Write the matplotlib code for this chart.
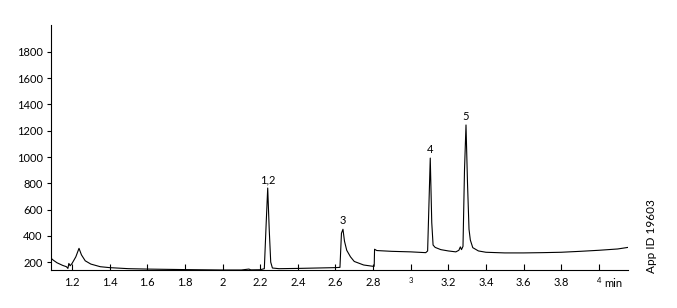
import matplotlib
matplotlib.use('Agg')
import matplotlib.pyplot as plt

plt.rcParams['font.family'] = ['Lato', 'DejaVu Sans']

# chromatogram trace (time in min, signal)
time_min = [1.088, 1.10, 1.12, 1.15, 1.17, 1.178, 1.183, 1.19, 1.20, 1.22, 1.237,
            1.25, 1.27, 1.30, 1.35, 1.40, 1.50, 1.60, 1.80, 2.00, 2.10, 2.14,
            2.15, 2.20, 2.222, 2.232, 2.240, 2.248, 2.256, 2.265, 2.30, 2.40,
            2.50, 2.60, 2.624, 2.632, 2.640, 2.648, 2.66, 2.68, 2.70, 2.75,
            2.80, 2.806, 2.808, 2.82, 2.90, 3.00, 3.08, 3.090, 3.104, 3.112,
            3.119, 3.13, 3.16, 3.20, 3.24, 3.256, 3.264, 3.270, 3.278, 3.286,
            3.294, 3.302, 3.310, 3.317, 3.33, 3.36, 3.40, 3.50, 3.60, 3.70,
            3.80, 3.90, 4.00, 4.10, 4.155]
signal = [230, 215, 195, 175, 165, 152, 190, 172, 190, 240, 305,
          255, 210, 185, 165, 158, 150, 147, 143, 140, 140, 147,
          141, 142, 150, 500, 764, 450, 200, 155, 150, 152,
          155, 158, 160, 420, 450, 360, 290, 240, 205, 178,
          168, 168, 298, 288, 282, 278, 272, 285, 992, 500,
          330, 312, 295, 285, 278, 290, 316, 295, 320, 900,
          1244, 800, 450, 368, 310, 285, 275, 270, 270, 272,
          275, 282, 290, 300, 312]

peak_labels = ['1,2', '3', '4', '5']
peak_times = [2.240, 2.640, 3.104, 3.294]
peak_heights = [764, 450, 992, 1244]

y_ticks = [200, 400, 600, 800, 1000, 1200, 1400, 1600, 1800]
x_ticks = [1.2, 1.4, 1.6, 1.8, 2.0, 2.2, 2.4, 2.6, 2.8, 3.0, 3.2, 3.4, 3.6, 3.8, 4.0]
x_tick_labels = ['1.2', '1.4', '1.6', '1.8', '2', '2.2', '2.4', '2.6', '2.8',
                 '3', '3.2', '3.4', '3.6', '3.8', '4']

fig = plt.figure(figsize=(6.77, 3.08), dpi=100)
ax = fig.add_axes([0.0753, 0.1234, 0.8523, 0.7954])

ax.plot(time_min, signal, color='black', lw=0.8)

for lab, t, h in zip(peak_labels, peak_times, peak_heights):
    ax.annotate(lab, (t, h), xytext=(0, 2), textcoords='offset points',
                ha='center', va='bottom', fontsize=8)

ax.set_xlim(1.088, 4.155)
ax.set_ylim(140, 2005)
ax.set_yticks(y_ticks)
ax.set_xticks(x_ticks)
ax.set_xticklabels(x_tick_labels)

ax.tick_params(axis='x', direction='in', length=4, width=0.8, labelsize=8, pad=5)
ax.tick_params(axis='y', direction='out', length=3, width=0.8, labelsize=8, pad=3)
# the "3" and "4" labels are printed smaller in the original
for lab in ax.get_xticklabels():
    if lab.get_text() in ('3', '4'):
        lab.set_fontsize(5.5)
ax.spines['top'].set_visible(False)
ax.spines['right'].set_visible(False)
ax.spines['left'].set_linewidth(0.8)
ax.spines['bottom'].set_linewidth(0.8)

fig.text(0.893, 0.080, 'min', fontsize=8, ha='left', va='center')
fig.text(0.963, 0.235, 'App ID 19603', rotation=90, fontsize=8.5,
         ha='center', va='center')

fig.savefig('out.png', dpi=100)
